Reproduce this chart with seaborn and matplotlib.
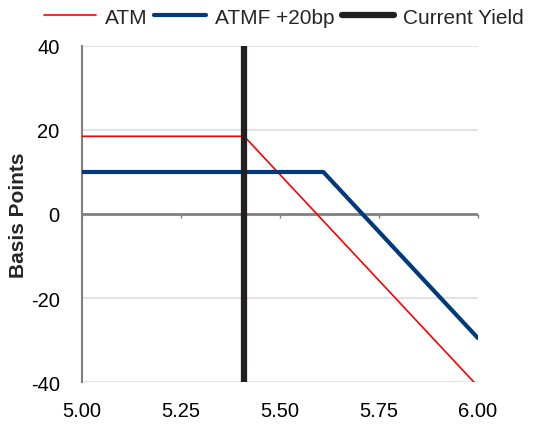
import matplotlib
matplotlib.use("Agg")
import matplotlib.pyplot as plt
import seaborn as sns
import pandas as pd

# Data
atm_x = [5.00, 5.41, 6.00]
atm_y = [18.5, 18.5, -41.0]
atmf_x = [5.00, 5.61, 6.00]
atmf_y = [10.0, 10.0, -29.5]
current_yield = 5.41
x_ticks = [5.00, 5.25, 5.50, 5.75, 6.00]
x_tick_labels = ["5.00", "5.25", "5.50", "5.75", "6.00"]
y_ticks = [-40, -20, 0, 20, 40]

sns.set_theme(style="white")
plt.rcParams['font.family'] = ['Liberation Sans', 'DejaVu Sans']
plt.rcParams['axes.unicode_minus'] = False

fig = plt.figure(figsize=(5.35, 4.27), dpi=100)
ax = fig.add_axes([0.153, 0.103, 0.74, 0.787])

df_atm = pd.DataFrame({"x": atm_x, "y": atm_y})
df_atmf = pd.DataFrame({"x": atmf_x, "y": atmf_y})

for yv in [-40, -20, 20, 40]:
    ax.axhline(yv, color="#e3e3e3", lw=1.5, zorder=0)
ax.axhline(0, color="#808080", lw=2, zorder=1)

sns.lineplot(data=df_atm, x="x", y="y", ax=ax, color="#ff0000", lw=1.2, label="ATM", zorder=3)
sns.lineplot(data=df_atmf, x="x", y="y", ax=ax, color="#003a7d", lw=3, label="ATMF +20bp", zorder=3)
ax.axvline(current_yield, color="#231f20", lw=4.5, label="Current Yield", zorder=4)

ax.set_xlim(5.0, 6.0)
ax.set_ylim(-40, 40)
ax.set_xticks(x_ticks)
ax.set_xticklabels(x_tick_labels)
ax.set_yticks(y_ticks)
ax.set_xlabel("")
ax.set_ylabel("Basis Points", fontsize=15, fontweight="bold")
ax.yaxis.set_label_coords(-0.136, 0.5)
ax.tick_params(axis="both", labelsize=14.5, length=0, colors="black")
ax.tick_params(axis="x", pad=14)
ax.tick_params(axis="y", pad=16)

for s in ["top", "right", "bottom"]:
    ax.spines[s].set_visible(False)
ax.spines["left"].set_color("#808080")
ax.spines["left"].set_linewidth(1.5)

# inward tick marks on the zero line
sec = ax.secondary_xaxis(0.5)
sec.set_xticks(x_ticks)
sec.tick_params(direction="in", length=3, width=1, color="#808080", labelbottom=False, labeltop=False)
for s in sec.spines.values():
    s.set_visible(False)

ax.get_legend().remove()
handles, labels = ax.get_legend_handles_labels()
fig.legend(handles, labels, loc="center", bbox_to_anchor=(0.53, 1 - 18 / 427), ncol=3,
           frameon=False, fontsize=15, handlelength=2.5, handletextpad=0.43,
           columnspacing=0.33, borderpad=0, borderaxespad=0)

fig.savefig("out.png", dpi=100)
